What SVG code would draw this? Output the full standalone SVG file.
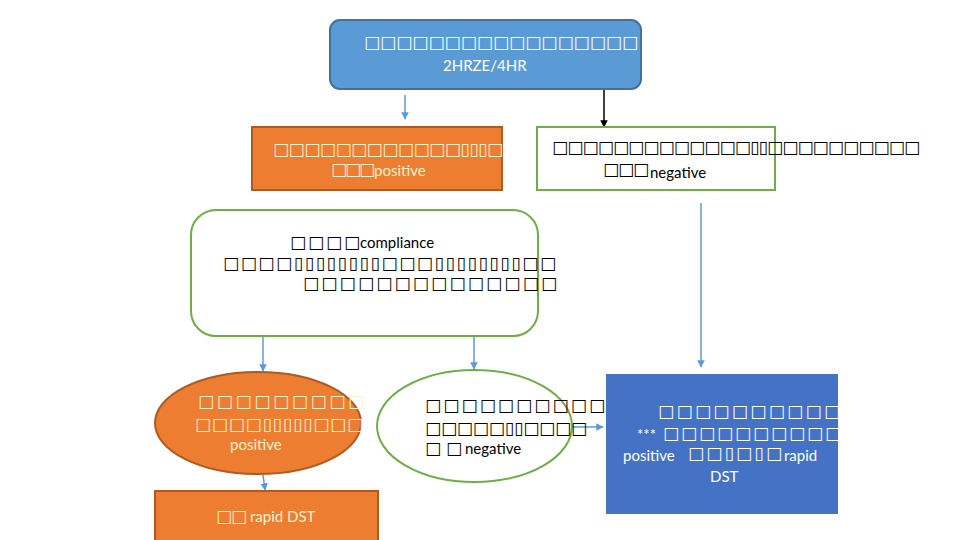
<svg xmlns="http://www.w3.org/2000/svg" width="960" height="540" viewBox="0 0 960 540">
<defs>
<marker id="ah" viewBox="0 0 10 10" refX="9" refY="5" markerWidth="5" markerHeight="5" orient="auto"><path d="M0,0 L10,5 L0,10 z" fill="#5B9BD5"/></marker>
<marker id="ahk" viewBox="0 0 10 10" refX="9" refY="5" markerWidth="5" markerHeight="5" orient="auto"><path d="M0,0 L10,5 L0,10 z" fill="#000"/></marker>
</defs>
<style>
.bx{font-family:"DejaVu Sans",sans-serif;font-size:17px}
.lt{font-family:Lato,"Liberation Sans",sans-serif;font-size:15px}
.w{fill:#FFFFFF}
.c{fill:#FFF2CC}
.k{fill:#000000}
.cn{stroke:#5B9BD5;stroke-width:1.5;fill:none;marker-end:url(#ah)}
</style>
<rect width="960" height="540" fill="#FFFFFF"/>
<g id="connectors">
<line class="cn" x1="405" y1="95" x2="405" y2="119"/>
<line x1="604" y1="89" x2="604" y2="127" stroke="#000" stroke-width="1.5" marker-end="url(#ahk)"/>
<line class="cn" x1="263" y1="337" x2="263" y2="371"/>
<line class="cn" x1="474" y1="337" x2="474" y2="369"/>
<line class="cn" x1="701" y1="203" x2="701" y2="367"/>
<line class="cn" x1="263" y1="475" x2="265" y2="490"/>
<line class="cn" x1="572" y1="427" x2="603" y2="427"/>
</g>
<g id="n1">
<rect x="330" y="20" width="311" height="69" rx="10" fill="#5B9BD5" stroke="#41719C" stroke-width="2"/>
<text class="bx w" x="364" y="48" textLength="274" lengthAdjust="spacing">□□□□□□□□□□□□□□□□□</text>
<text class="lt w" x="443" y="71" font-size="14">2HRZE/4HR</text>
</g>
<g id="n2">
<rect x="252" y="127" width="250" height="63" fill="#ED7D31" stroke="#AE5A21" stroke-width="2"/>
<text class="bx c" x="273" y="155" textLength="230" lengthAdjust="spacing">□□□□□□□□□□□□▯▯▯□</text>
<text class="bx c" x="331" y="175" textLength="44" lengthAdjust="spacing">□□□</text>
<text class="lt c" x="374" y="176">positive</text>
</g>
<g id="n3">
<rect x="537" y="127" width="238" height="63" fill="#FFFFFF" stroke="#70AD47" stroke-width="2"/>
<text class="bx k" x="552" y="153" textLength="368" lengthAdjust="spacing">□□□□□□□□□□□□□▯▯□□□□□□□□□□</text>
<text class="bx k" x="603" y="175" textLength="46" lengthAdjust="spacing">□□□</text>
<text class="lt k" x="650" y="178">negative</text>
</g>
<g id="n4">
<rect x="191" y="210" width="347" height="126" rx="25" fill="#FFFFFF" stroke="#70AD47" stroke-width="2"/>
<text class="bx k" x="290" y="248" textLength="70" lengthAdjust="spacing">□□□□</text>
<text class="lt k" x="360" y="248">compliance</text>
<text class="bx k" x="223" y="269" textLength="333" lengthAdjust="spacing">□□□□▯▯▯▯▯▯▯▯□□□▯▯▯▯▯▯▯▯□□</text>
<text class="bx k" x="303" y="289" textLength="254" lengthAdjust="spacing">□□□□□□□□□□□□□□</text>
</g>
<g id="n5">
<ellipse cx="258" cy="423" rx="103" ry="51" fill="#ED7D31" stroke="#AE5A21" stroke-width="2"/>
<text class="bx c" x="198" y="407" textLength="166" lengthAdjust="spacing">□□□□□□□□□</text>
<text class="bx c" x="195" y="430" textLength="168" lengthAdjust="spacing">□□□□▯▯▯▯▯□□□</text>
<text class="lt c" x="230" y="450">positive</text>
</g>
<g id="n6">
<rect x="155" y="491" width="223" height="52" fill="#ED7D31" stroke="#AE5A21" stroke-width="2"/>
<text class="bx c" x="216" y="522" textLength="31" lengthAdjust="spacing">□□</text>
<text class="lt c" x="250" y="522">rapid DST</text>
</g>
<g id="n7">
<ellipse cx="474.5" cy="426" rx="97.5" ry="56" fill="#FFFFFF" stroke="#70AD47" stroke-width="2"/>
<text class="bx k" x="425" y="411" textLength="180" lengthAdjust="spacing">□□□□□□□□□□</text>
<text class="bx k" x="425" y="434" textLength="162" lengthAdjust="spacing">□□□□□▯▯□□□□</text>
<text class="bx k" x="425" y="454" textLength="37" lengthAdjust="spacing">□□</text>
<text class="lt k" x="465" y="454">negative</text>
</g>
<g id="n8">
<rect x="606" y="374" width="232" height="140" fill="#4472C4"/>
<text class="bx w" x="658" y="417" textLength="182" lengthAdjust="spacing">□□□□□□□□□□</text>
<text class="lt w" x="637" y="440">***</text>
<text class="bx w" x="663" y="439" textLength="178" lengthAdjust="spacing">□□□□□□□□□□</text>
<text class="lt w" x="623" y="461">positive</text>
<text class="bx w" x="688" y="459" textLength="94" lengthAdjust="spacing">□□▯□▯□</text>
<text class="lt w" x="784" y="461">rapid</text>
<text class="lt w" x="710" y="482">DST</text>
</g>
</svg>
